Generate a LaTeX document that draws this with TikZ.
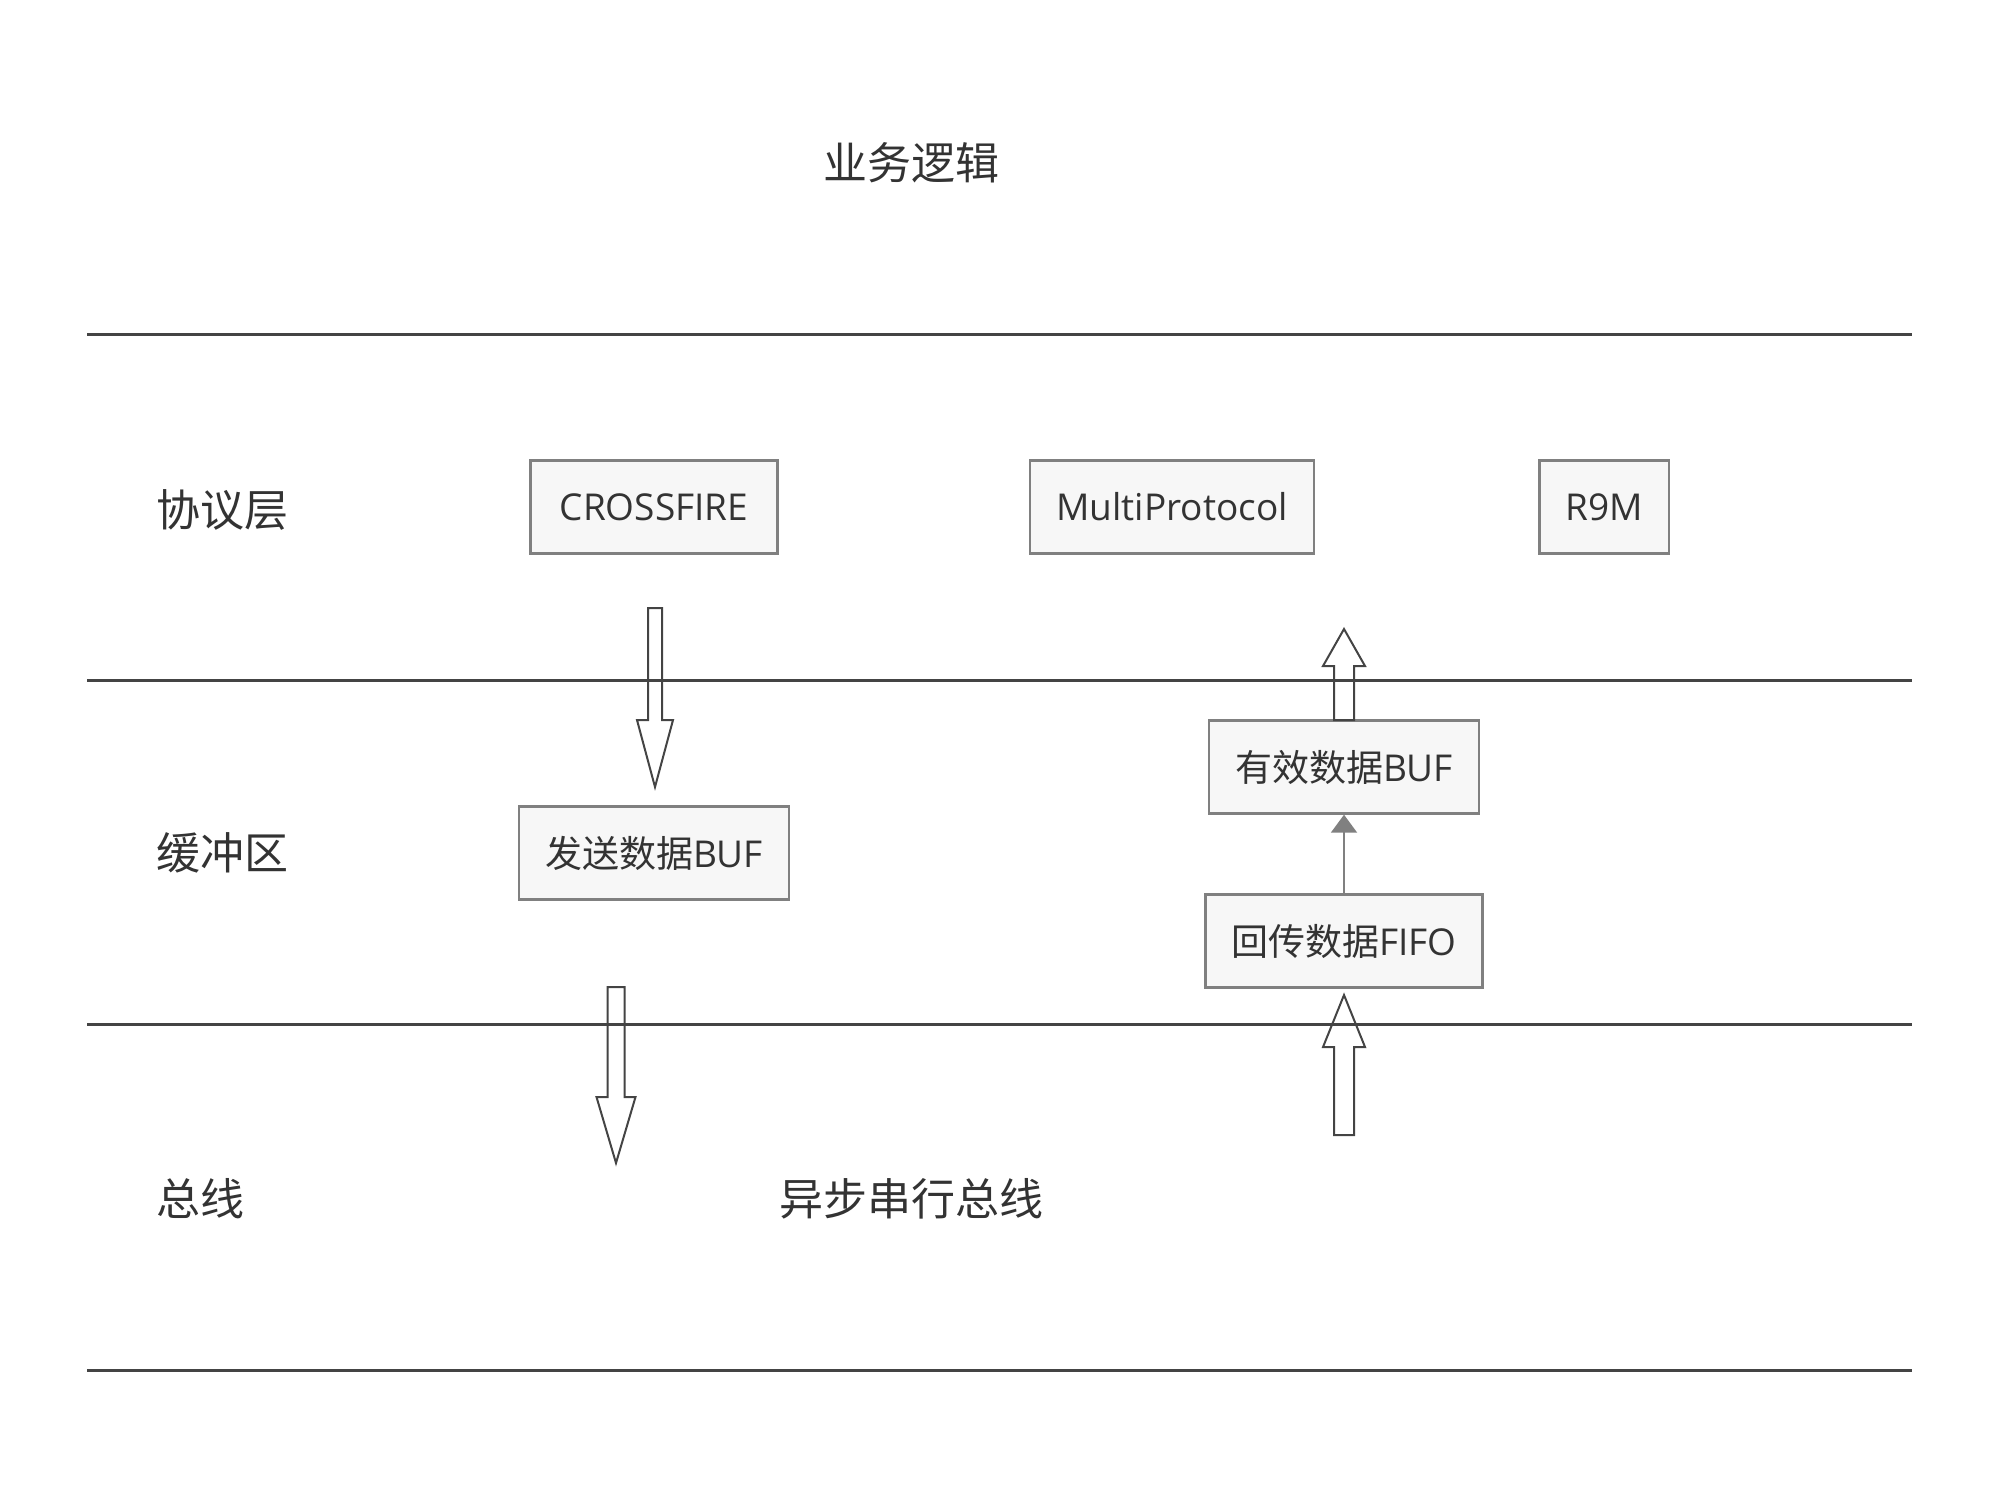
\documentclass[tikz,border=0pt]{standalone}
\usepackage{fontspec}
\setmainfont{Open Sans}
\newfontfamily\cjk{Noto Sans CJK SC}
\usetikzlibrary{arrows.meta}

\definecolor{linegray}{HTML}{444444}
\definecolor{boxgray}{HTML}{808080}
\definecolor{boxfill}{HTML}{F7F7F7}
\definecolor{textgray}{HTML}{333333}

\tikzset{
  layer/.style={draw=linegray, line width=1.5pt},
  lbl/.style={text=textgray, font=\fontsize{22}{26}\selectfont\cjk, inner sep=0pt},
  box/.style={draw=boxgray, fill=boxfill, line width=1.2pt, text=textgray,
    font=\fontsize{18.5}{22}\selectfont, minimum height=46.5pt, inner xsep=13pt},
  hollow/.style={draw=linegray, line width=1pt},
  flow/.style={draw=boxgray, line width=1pt, -{Triangle[width=13pt,length=9pt]}}
}

% hollow block arrow: x, tail y, head base y, tip y, shaft half width
\newcommand{\hollowarrow}[5]{%
  \draw[hollow] (#1-#5,#2) -- (#1-#5,#3) -- (#1-#5-11,#3) -- (#1,#4)
    -- (#1+#5+11,#3) -- (#1+#5,#3) -- (#1+#5,#2) -- cycle;}

\begin{document}
\begin{tikzpicture}[x=0.5pt, y=-0.5pt]

		\useasboundingbox (0,0) rectangle (2000,1500);

		% Layer separators
		\draw[layer] (87,334) -- (1912,334);
		\draw[layer] (87,680) -- (1912,680);
		\draw[layer] (87,1024) -- (1912,1024);
		\draw[layer] (87,1370) -- (1912,1370);

		% Layer labels
		\node[lbl] (app) at (911,163) {业务逻辑};
		\node[lbl, anchor=west] (proto) at (156,510) {协议层};
		\node[lbl, anchor=west] (buffer) at (156,853) {缓冲区};
		\node[lbl, anchor=west] (bus) at (156,1199) {总线};
		\node[lbl] (uart) at (911,1199) {异步串行总线};

		% Protocol boxes
		\node[box, minimum width=123.5pt] (crsf) at (654,507) {CROSSFIRE};
		\node[box] (multi) at (1172,507) {MultiProtocol};
		\node[box] (rnine) at (1604,507) {R9M};

		% Buffer boxes
		\node[box] (txbuf) at (654,853) {{\cjk 发送数据}BUF};
		\node[box] (validbuf) at (1344,767) {{\cjk 有效数据}BUF};
		\node[box] (rxfifo) at (1344,941) {{\cjk 回传数据}FIFO};

		\draw[flow] (rxfifo) -- (validbuf);

		% Block arrows
		\hollowarrow{655}{608}{720}{787}{7}
		\hollowarrow{616}{987}{1097}{1163}{8.5}
		\hollowarrow{1344}{720}{666}{629}{10}
		\hollowarrow{1344}{1135}{1047}{995}{10}

	\end{tikzpicture}
\end{document}
